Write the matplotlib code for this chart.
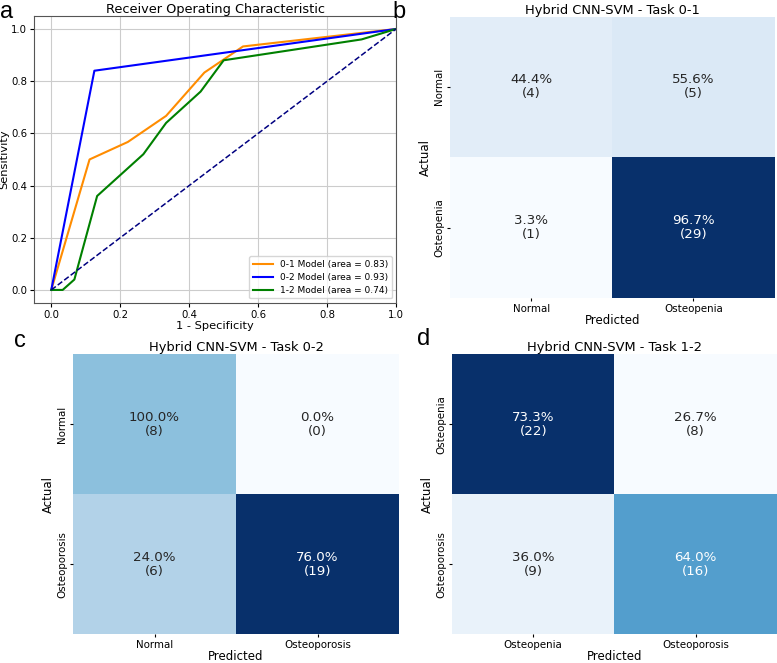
import numpy as np
import matplotlib
matplotlib.use("Agg")
import matplotlib.pyplot as plt
import seaborn as sns

# ROC data
fpr_01 = [0.0, 0.111, 0.222, 0.333, 0.444, 0.556, 1.0]
tpr_01 = [0.0, 0.5, 0.567, 0.667, 0.833, 0.933, 1.0]
fpr_02 = [0.0, 0.125, 1.0]
tpr_02 = [0.0, 0.84, 1.0]
fpr_12 = [0.0, 0.033, 0.067, 0.133, 0.267, 0.333, 0.433, 0.5, 0.9, 1.0]
tpr_12 = [0.0, 0.0, 0.04, 0.36, 0.52, 0.64, 0.76, 0.88, 0.96, 1.0]
roc_labels = ["0-1 Model (area = 0.83)", "0-2 Model (area = 0.93)", "1-2 Model (area = 0.74)"]
roc_colors = ["darkorange", "blue", "green"]

# Confusion matrices
cm_01 = np.array([[4, 5], [1, 29]])
cm_02 = np.array([[8, 0], [6, 19]])
cm_12 = np.array([[22, 8], [9, 16]])
classes_01 = ["Normal", "Osteopenia"]
classes_02 = ["Normal", "Osteoporosis"]
classes_12 = ["Osteopenia", "Osteoporosis"]
titles = ["Hybrid CNN-SVM - Task 0-1", "Hybrid CNN-SVM - Task 0-2", "Hybrid CNN-SVM - Task 1-2"]

fig = plt.figure(figsize=(7.77, 6.63), dpi=100)

# Panel a
ax_a = fig.add_axes([0.0438, 0.543, 0.466, 0.433])
for fx, ty, lab, col in zip([fpr_01, fpr_02, fpr_12], [tpr_01, tpr_02, tpr_12], roc_labels, roc_colors):
    ax_a.plot(fx, ty, color=col, lw=1.5, label=lab)
ax_a.plot([0, 1], [0, 1], color="navy", lw=1.1, linestyle="--")
ax_a.set_xlim(-0.05, 1.0)
ax_a.set_ylim(-0.05, 1.05)
ax_a.grid(True, color="#cccccc", lw=0.8)
ax_a.set_xlabel("1 - Specificity", fontsize=8.2, labelpad=1)
ax_a.set_ylabel("Sensitivity", fontsize=8.2, labelpad=1)
ax_a.set_title("Receiver Operating Characteristic", fontsize=9.3, pad=2)
ax_a.tick_params(labelsize=7.3, length=3, pad=2)
ax_a.legend(loc="lower right", fontsize=6.5, handlelength=2.2, borderpad=0.4, labelspacing=0.45)
for s in ax_a.spines.values():
    s.set_color("#555555")


def cm_panel(rect, cm, classes, title):
    ax = fig.add_axes(rect)
    pct = cm / cm.sum(axis=1, keepdims=True) * 100
    labels = np.array([[f"{pct[i, j]:.1f}%\n({cm[i, j]})" for j in range(2)] for i in range(2)])
    sns.heatmap(cm, annot=labels, fmt="", cmap="Blues", cbar=False, ax=ax,
                annot_kws={"fontsize": 9.6, "linespacing": 1.1}, xticklabels=classes, yticklabels=classes)
    ax.set_title(title, fontsize=9.4, pad=2)
    ax.set_xlabel("Predicted", fontsize=8.5, labelpad=0)
    ax.set_ylabel("Actual", fontsize=8.5, labelpad=2)
    ax.tick_params(labelsize=7.4, length=2, pad=2)
    plt.setp(ax.get_yticklabels(), rotation=90, va="center")
    plt.setp(ax.get_xticklabels(), rotation=0)
    return ax

cm_panel([0.579, 0.5505, 0.418, 0.4245], cm_01, classes_01, titles[0])
cm_panel([0.094, 0.043, 0.4195, 0.423], cm_02, classes_02, titles[1])
cm_panel([0.5817, 0.043, 0.4183, 0.423], cm_12, classes_12, titles[2])

lf = dict(fontsize=17, family="Liberation Sans", va="top", ha="left")
fig.text(0.0, 0.998, "a", **lf)
fig.text(0.505, 0.998, "b", **lf)
fig.text(0.018, 0.503, "c", **lf)
fig.text(0.537, 0.505, "d", **lf)

fig.savefig("out.png", dpi=100)
